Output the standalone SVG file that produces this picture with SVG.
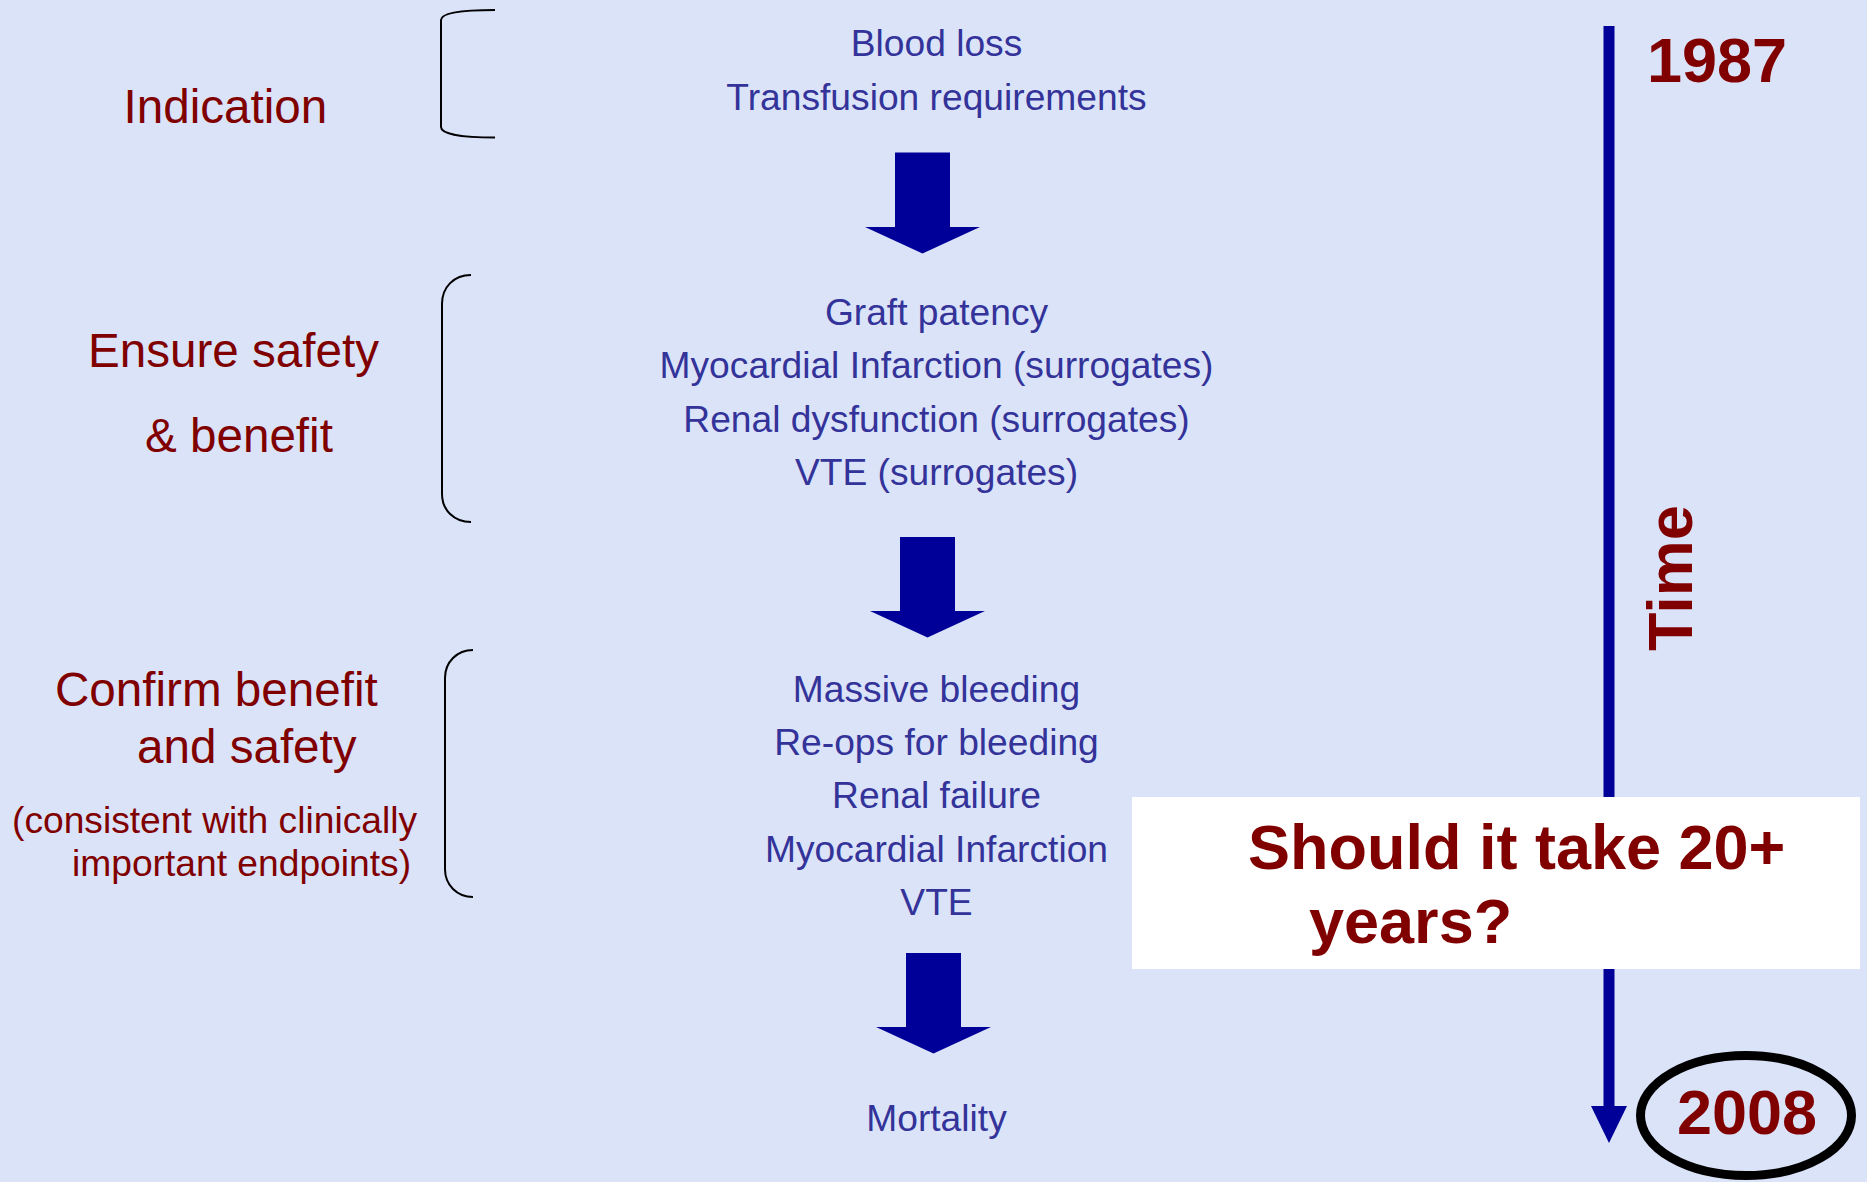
<svg xmlns="http://www.w3.org/2000/svg" width="1867" height="1182" viewBox="0 0 1867 1182">
<defs>
<style>
.lbl{font-family:"Liberation Sans",Arial,sans-serif;font-size:47.6px;fill:#800000}
.lbls{font-family:"Liberation Sans",Arial,sans-serif;font-size:37.2px;fill:#800000}
.item{font-family:"Liberation Sans",Arial,sans-serif;font-size:37.2px;fill:#333399;text-anchor:middle}
.big{font-family:"Liberation Sans",Arial,sans-serif;font-size:63px;font-weight:bold;fill:#800000}
.brace{fill:none;stroke:#000;stroke-width:2}
.arrow{fill:#000099}
</style>
</defs>
<rect x="0" y="0" width="1867" height="1182" fill="#DBE3F9"/>

<g id="connectors">
  <line x1="1609" y1="26" x2="1609" y2="1110" stroke="#000099" stroke-width="11"/>
  <polygon class="arrow" points="1591,1106 1627,1106 1609,1143"/>
  <polygon id="arrow1" class="arrow" points="895,152.5 950,152.5 950,227 980,227 922.5,253.5 865,227 895,227"/>
  <polygon id="arrow2" class="arrow" points="900,537 955,537 955,611 985,611 927.5,637.5 870,611 900,611"/>
  <polygon id="arrow3" class="arrow" points="906,953 961,953 961,1027 991,1027 933.5,1053.5 876,1027 906,1027"/>
</g>

<g id="indication">
  <text class="lbl" x="123.5" y="123">Indication</text>
  <path class="brace" d="M495,10 C462,10 441,13 441,20 L441,127 C441,134 462,137.5 495,137.5"/>
</g>
<g id="ensure">
  <text class="lbl" x="88" y="367">Ensure safety</text>
  <text class="lbl" x="145" y="452">&amp; benefit</text>
  <path class="brace" d="M471,275 C454,275 442,287 442,304 L442,494 C442,510 454,522 471,522"/>
</g>
<g id="confirm">
  <text class="lbl" x="55" y="706">Confirm benefit</text>
  <text class="lbl" x="137" y="763">and safety</text>
  <text class="lbls" x="12" y="833">(consistent with clinically</text>
  <text class="lbls" x="72" y="876">important endpoints)</text>
  <path class="brace" d="M473,650 C457,650 445,662 445,678 L445,869 C445,885 457,897 473,897"/>
</g>

<g id="stage1">
  <text class="item" x="936.5" y="55.5">Blood loss</text>
  <text class="item" x="936.5" y="109.5">Transfusion requirements</text>
</g>
<g id="stage2">
  <text class="item" x="936.5" y="325">Graft patency</text>
  <text class="item" x="936.5" y="378">Myocardial Infarction (surrogates)</text>
  <text class="item" x="936.5" y="431.5">Renal dysfunction (surrogates)</text>
  <text class="item" x="936.5" y="485">VTE (surrogates)</text>
</g>
<g id="stage3">
  <text class="item" x="936.5" y="701.5">Massive bleeding</text>
  <text class="item" x="936.5" y="755">Re-ops for bleeding</text>
  <text class="item" x="936.5" y="808">Renal failure</text>
  <text class="item" x="936.5" y="861.5">Myocardial Infarction</text>
  <text class="item" x="936.5" y="915">VTE</text>
</g>
<g id="stage4">
  <text class="item" x="936.5" y="1131">Mortality</text>
</g>

<g id="timeline-labels">
  <text class="big" x="1647" y="82" font-size="61">1987</text>
  <text class="big" transform="translate(1692,651) rotate(-90)">Time</text>
</g>

<g id="question">
  <rect x="1132" y="797" width="728" height="172" fill="#FFFFFF"/>
  <text class="big" x="1248" y="869" font-size="64">Should it take 20+</text>
  <text class="big" x="1309" y="943" font-size="64">years?</text>
</g>

<g id="year2008">
  <ellipse cx="1746" cy="1115.5" rx="105.5" ry="60" fill="none" stroke="#000" stroke-width="9"/>
  <text class="big" x="1747" y="1134" text-anchor="middle">2008</text>
</g>
</svg>
